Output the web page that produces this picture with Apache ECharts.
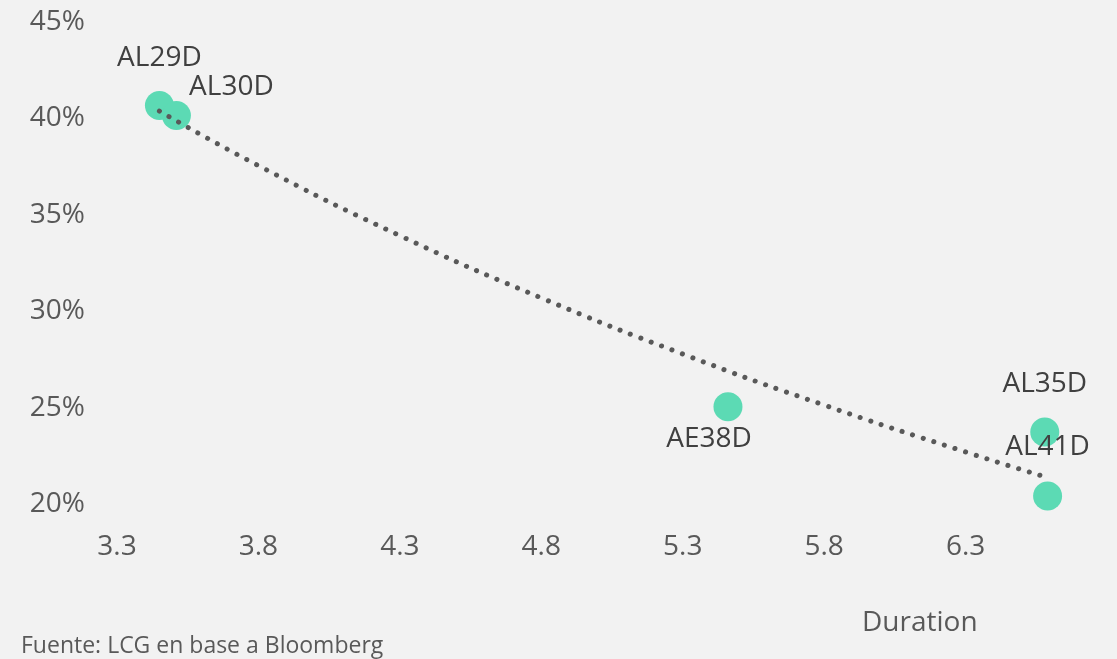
<!DOCTYPE html>
<html>
<head>
<meta charset="utf-8">
<title>Duration vs rendimiento</title>
<script src="https://cdn.jsdelivr.net/npm/echarts@6/dist/echarts.min.js"></script>
<style>
  html, body { margin: 0; padding: 0; background: #f2f2f2; }
  #chart { width: 1117px; height: 659px; }
</style>
</head>
<body>
<div id="chart"></div>
<script>
// Bonds: name, duration and yield (%)
const bondNames = ['AL29D', 'AL30D', 'AE38D', 'AL35D', 'AL41D'];
const durations = [3.45, 3.51, 5.46, 6.58, 6.59];
const yields = [40.67, 40.15, 25.05, 23.74, 20.41];

// Logarithmic trend line, sampled along the duration range
const trendX = [3.45, 3.8, 4.3, 4.8, 5.3, 5.8, 6.3, 6.59];
const trendY = [40.38, 37.55, 33.92, 30.69, 27.78, 25.13, 22.70, 21.37];

// Axis ranges
const xMin = 3.3, xMax = 6.8, xStep = 0.5;
const yMin = 20, yMax = 45, yStep = 5;

// Where each bond's label sits relative to its marker
const labelOffsets = {
  AL29D: [0, -47],
  AL30D: [55, -28],
  AE38D: [-19, 32],
  AL35D: [0, -48],
  AL41D: [0, -49]
};

const FONT = '"Open Sans", "Noto Sans", sans-serif';

const scatterData = bondNames.map((n, i) => ({
  name: n,
  value: [durations[i], yields[i]],
  label: { offset: labelOffsets[n] }
}));
const trendData = trendX.map((x, i) => [x, trendY[i]]);

const chart = echarts.init(document.getElementById('chart'), null, { renderer: 'canvas' });
chart.setOption({
  backgroundColor: '#f2f2f2',
  animation: false,
  grid: {
    left: 117, right: 10, top: 22, bottom: 155,
    containLabel: false, outerBoundsMode: 'none'
  },
  xAxis: {
    type: 'value',
    min: xMin, max: xMax, interval: xStep,
    axisLine: { show: false }, axisTick: { show: false }, splitLine: { show: false },
    axisLabel: {
      showMaxLabel: false,
      margin: 29, fontSize: 28, lineHeight: 28, color: '#595959', fontFamily: FONT,
      formatter: v => v.toFixed(1)
    }
  },
  yAxis: {
    type: 'value',
    min: yMin, max: yMax, interval: yStep,
    axisLine: { show: false }, axisTick: { show: false }, splitLine: { show: false },
    axisLabel: {
      margin: 32, fontSize: 28, color: '#595959', fontFamily: FONT,
      formatter: '{value}%'
    }
  },
  series: [
    {
      type: 'scatter',
      symbol: 'circle',
      symbolSize: 29,
      itemStyle: { color: '#5cdab4', opacity: 1 },
      label: {
        show: true, position: 'inside', formatter: '{b}',
        fontSize: 28, color: '#404040', fontFamily: FONT
      },
      data: scatterData,
      z: 2
    },
    {
      type: 'line',
      smooth: true,
      showSymbol: false,
      symbol: 'none',
      lineStyle: { color: '#595959', width: 5, type: [0.1, 11], cap: 'round' },
      data: trendData,
      z: 3
    }
  ],
  graphic: [
    {
      type: 'text', left: 862, top: 609,
      style: { text: 'Duration', font: '28px ' + FONT, fill: '#595959' }
    },
    {
      type: 'text', left: 21, top: 635,
      style: { text: 'Fuente: LCG en base a Bloomberg', font: '23px ' + FONT, fill: '#595959' }
    }
  ]
});
</script>
</body>
</html>
